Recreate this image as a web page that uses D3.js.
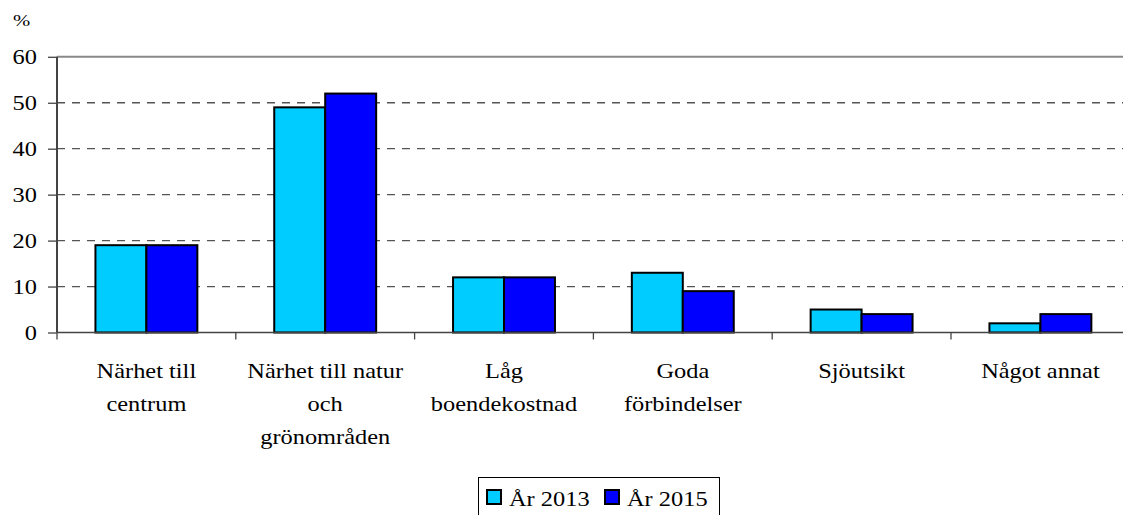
<!DOCTYPE html>
<html>
<head>
<meta charset="utf-8">
<script src="https://cdn.jsdelivr.net/npm/d3@7"></script>
<style>
  html, body { margin: 0; padding: 0; background: #fff; }
  svg { display: block; }
</style>
</head>
<body>
<svg id="chart" width="1123" height="515"></svg>
<script>
// Categories (each label split into its display lines)
const categories = [
  "Närhet till centrum",
  "Närhet till natur och grönområden",
  "Låg boendekostnad",
  "Goda förbindelser",
  "Sjöutsikt",
  "Något annat"
];
const categoryLines = [
  ["Närhet till", "centrum"],
  ["Närhet till natur", "och", "grönområden"],
  ["Låg", "boendekostnad"],
  ["Goda", "förbindelser"],
  ["Sjöutsikt"],
  ["Något annat"]
];
const seriesNames = ["År 2013", "År 2015"];
const values2013 = [19, 49, 12, 13, 5, 2];
const values2015 = [19, 52, 12, 9, 4, 4];
const yTicks = [0, 10, 20, 30, 40, 50, 60];
const seriesColors = ["#00CCFF", "#0000FF"];

const svg = d3.select("#chart");
const fontFamily = "'Liberation Serif', 'Times New Roman', Times, serif";
const fontSize = 20;
const stretch = 1.22; // horizontal widening of all glyphs

const plotLeft = 57, bandW = 178.8;
const plotRight = plotLeft + bandW * categories.length;
const plotTop = 56.8, plotBottom = 332.5;

const x0 = d3.scaleBand().domain(categories).range([plotLeft, plotRight]).padding(0);
const x1 = d3.scaleBand().domain(seriesNames)
  .range([x0.bandwidth() * 0.215, x0.bandwidth() * 0.785]).padding(0);
const y = d3.scaleLinear().domain([0, 60]).range([plotBottom, plotTop]);

function label(g, str, x, yy, anchor, size) {
  return g.append("text")
    .attr("transform", `translate(${x},${yy}) scale(${stretch},1)`)
    .attr("text-anchor", anchor)
    .attr("font-family", fontFamily)
    .style("font-family", fontFamily)
    .style("font-size", (size || fontSize) + "px")
    .attr("fill", "#000")
    .text(str);
}

// Gridlines
const grid = svg.append("g");
grid.selectAll("line")
  .data(yTicks.filter(t => t > 0))
  .join("line")
  .attr("x1", plotLeft).attr("x2", plotRight)
  .attr("y1", d => y(d)).attr("y2", d => y(d))
  .attr("stroke", d => d === 60 ? "#888" : "#555")
  .attr("stroke-width", d => d === 60 ? 2 : 1.3)
  .attr("stroke-dasharray", d => d === 60 ? null : "8,7");

// Bars
const series = [values2013, values2015];
const groups = svg.append("g").selectAll("g")
  .data(categories)
  .join("g")
  .attr("transform", d => `translate(${x0(d)},0)`);
groups.selectAll("rect")
  .data((d, i) => seriesNames.map((s, k) => ({ s, v: series[k][i], k })))
  .join("rect")
  .attr("x", d => x1(d.s))
  .attr("width", x1.bandwidth())
  .attr("y", d => y(d.v))
  .attr("height", d => y(0) - y(d.v))
  .attr("fill", d => seriesColors[d.k])
  .attr("stroke", "#000")
  .attr("stroke-width", 2);

// Y axis
const yAxis = svg.append("g")
  .attr("transform", `translate(${plotLeft},0)`)
  .call(d3.axisLeft(y).tickValues(yTicks).tickSize(9).tickFormat(""));
yAxis.select(".domain").attr("stroke", "#444").attr("stroke-width", 2)
  .attr("d", `M0,${plotTop}V${plotBottom}`);
yAxis.selectAll(".tick line").attr("stroke", "#444").attr("stroke-width", 1.3);
const yLab = svg.append("g");
yTicks.forEach(t => label(yLab, String(t), 37, y(t) + 7, "end"));
label(svg.append("g"), "%", 13, 26, "start", 17);

// X axis
const xAxis = svg.append("g")
  .attr("transform", `translate(0,${plotBottom})`)
  .call(d3.axisBottom(x0).tickSize(0).tickFormat(""));
xAxis.select(".domain").attr("stroke", "#444").attr("stroke-width", 1.5)
  .attr("d", `M${plotLeft},0H${plotRight}`);
xAxis.selectAll(".tick").remove();
xAxis.selectAll("line.sep")
  .data(d3.range(categories.length + 1))
  .join("line")
  .attr("class", "sep")
  .attr("x1", i => plotLeft + i * x0.step()).attr("x2", i => plotLeft + i * x0.step())
  .attr("y1", 0).attr("y2", 7)
  .attr("stroke", "#444").attr("stroke-width", 1.3);

// Category labels
const catLab = svg.append("g");
categories.forEach((c, i) => {
  const cx = x0(c) + x0.bandwidth() / 2;
  categoryLines[i].forEach((ln, j) => label(catLab, ln, cx, 378 + j * 33, "middle"));
});

// Legend
const legend = svg.append("g");
legend.append("rect")
  .attr("x", 478.5).attr("y", 477.5).attr("width", 241).attr("height", 50)
  .attr("fill", "#fff").attr("stroke", "#000").attr("stroke-width", 1);
const legX = [487, 605];
seriesNames.forEach((s, k) => {
  legend.append("rect")
    .attr("x", legX[k]).attr("y", 490).attr("width", 14).attr("height", 14)
    .attr("fill", seriesColors[k]).attr("stroke", "#000").attr("stroke-width", 2);
  label(legend, s, legX[k] + 22, 506, "start");
});
</script>
</body>
</html>
